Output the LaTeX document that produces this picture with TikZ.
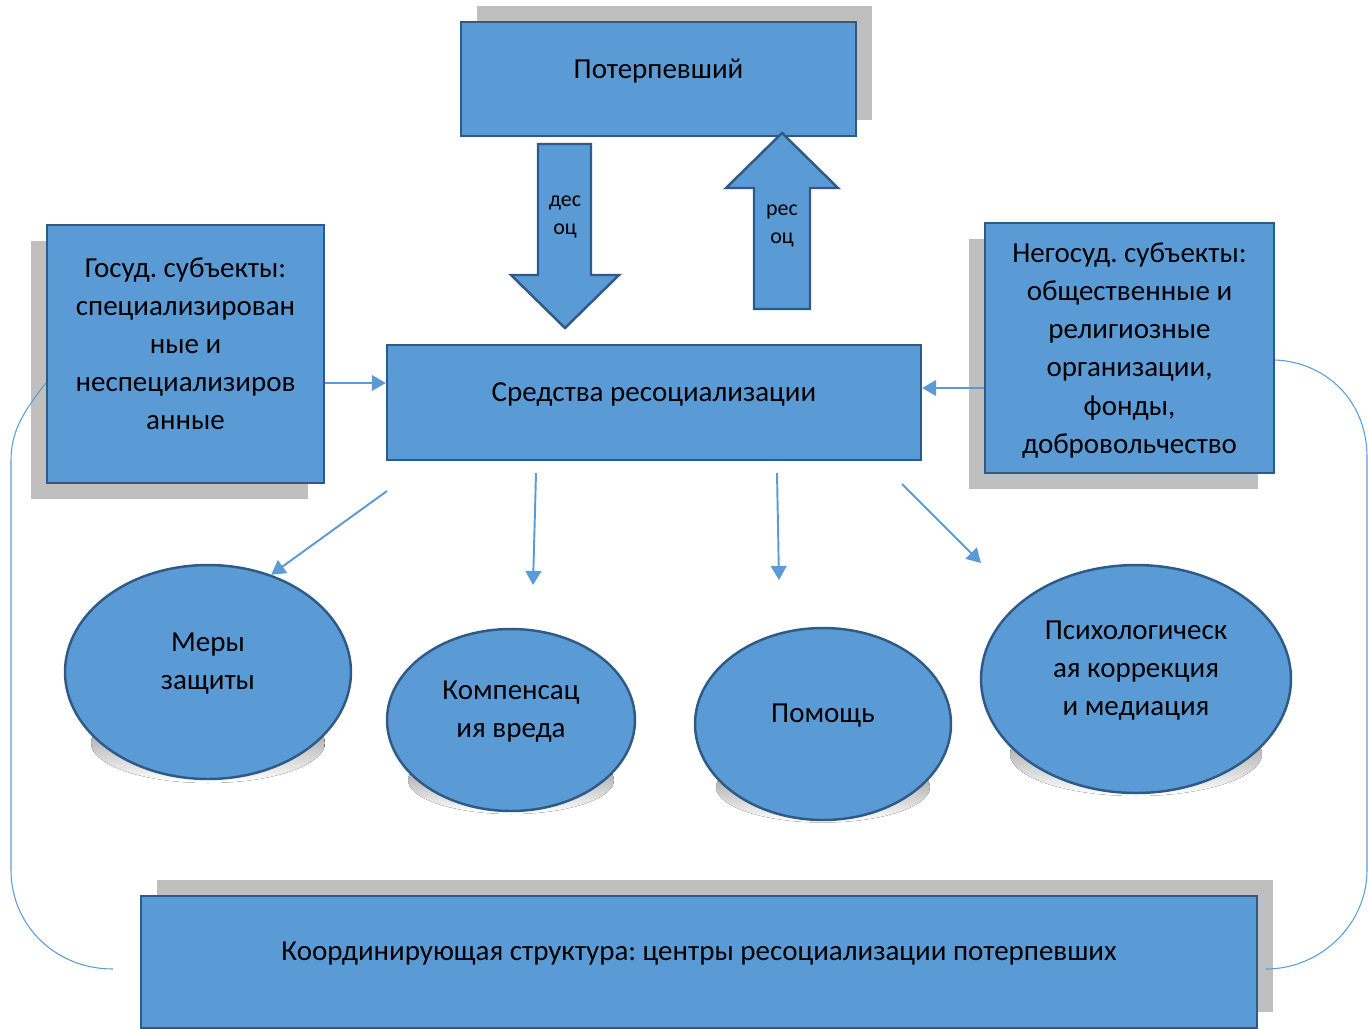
\documentclass[tikz,border=0pt]{standalone}
\usepackage{fontspec}
\setmainfont{Carlito}
\frenchspacing
\usetikzlibrary{shapes.geometric,shadows,backgrounds,calc,arrows.meta}
\definecolor{boxblue}{HTML}{5B9BD5}
\definecolor{boxline}{HTML}{2E5A87}
\definecolor{shade}{HTML}{BFBFBF}

\begin{document}
\begin{tikzpicture}[x=0.02cm,y=-0.02cm]
\tikzset{block/.style = {shape=rectangle,draw=boxline,fill=boxblue,line width=1.4pt,align=center,inner sep=0pt,font=\fontsize{16.5}{21.7}\selectfont}}
\tikzset{oval/.style = {shape=ellipse,draw=boxline,fill=boxblue,line width=1.4pt,align=center,inner sep=0pt,text depth=0.42cm,font=\fontsize{16.5}{21.7}\selectfont}}
\tikzset{upshade/.style = {drop shadow={shadow xshift=0.32cm,shadow yshift=0.32cm,fill=shade,opacity=1}}}
\tikzset{downshade/.style = {drop shadow={shadow xshift=-0.32cm,shadow yshift=-0.32cm,fill=shade,opacity=1}}}
\tikzset{bigarrow/.style = {draw=boxline,fill=boxblue,line width=1.4pt,line join=miter}}
\tikzset{arrowtext/.style = {align=center,inner sep=0pt,font=\fontsize{12.5}{16.4}\selectfont}}
\tikzset{link/.style = {draw=boxblue,line width=1.1pt,-{Triangle[width=9pt,length=8pt]}}}
\tikzset{sideline/.style = {draw=boxblue,line width=0.6pt}}

\useasboundingbox (0,0) rectangle (1368,1028);

% boxes
\node[block,upshade,minimum width=7.9cm,minimum height=2.28cm,text depth=0.42cm] (pot) at (658.5,79) {Потерпевший};
\node[block,downshade,minimum width=5.54cm,minimum height=5.16cm,text depth=0.42cm] (gos) at (185.5,354) {Госуд. субъекты:\\специализирован\\ные и\\неспециализиров\\анные};
\node[block,downshade,minimum width=5.78cm,minimum height=5cm,text depth=0cm] (ngos) at (1129.5,348) {Негосуд. субъекты:\\общественные и\\религиозные\\организации,\\фонды,\\добровольчество};
\node[block,minimum width=10.68cm,minimum height=2.3cm,text depth=0.42cm] (sred) at (654,402.5) {Средства ресоциализации};
\node[block,upshade,minimum width=22.32cm,minimum height=2.64cm,text depth=0.42cm] (koord) at (699,962) {Координирующая структура: центры ресоциализации потерпевших};

% wide arrows
\draw[bigarrow] (538,144) -- (591,144) -- (591,275) -- (619,275) -- (565,328) -- (511,275) -- (538,275) -- cycle;
\draw[bigarrow] (754,309) -- (810,309) -- (810,188) -- (838,188) -- (782,133) -- (726,188) -- (754,188) -- cycle;
\node[arrowtext] (des) at (565,217) {дес\\оц};
\node[arrowtext] (res) at (782,226) {рес\\оц};

% ovals
\node[oval,minimum width=5.72cm,minimum height=4.28cm] (mery) at (208,672) {Меры\\защиты};
\node[oval,minimum width=4.96cm,minimum height=3.64cm] (komp) at (511,720) {Компенсац\\ия вреда};
\node[oval,minimum width=5.12cm,minimum height=3.84cm] (pom) at (823,724) {Помощь};
\node[oval,minimum width=6.2cm,minimum height=4.56cm] (psy) at (1136,679) {Психологическ\\ая коррекция\\и медиация};

\begin{pgfonlayer}{background}
\foreach \e/\rx/\ry/\dy in {mery/2.34/0.8/71, komp/2.06/0.68/60, pom/2.14/0.71/63, psy/2.52/0.84/75}
  \fill[shade] ($(\e)+(0,\dy)$) ellipse [x radius=\rx cm, y radius=\ry cm];
\end{pgfonlayer}

% connectors
\coordinate (f1) at (387,491);
\coordinate (f2) at (536,473);
\coordinate (f3) at (777,473);
\coordinate (f4) at (902,484);
\coordinate (t2) at (533,585);
\coordinate (t3) at (779,580);
\coordinate (t4) at (981,563);
\coordinate (lend) at (113,969);
\coordinate (rend) at (1266,969);

\draw[link] (gos.east |- 0,383) -- (sred.west |- 0,383);
\draw[link] (ngos.west |- 0,388) -- (sred.east |- 0,388);
\draw[link] (f1) -- (mery.57);
\draw[link] (f2) -- (t2);
\draw[link] (f3) -- (t3);
\draw[link] (f4) -- (t4);

\draw[sideline] (gos.west |- 0,383) .. controls (25,410) and (11,430) .. (11,460) -- (11,870) .. controls (11,925) and (55,969) .. (lend);
\draw[sideline] (ngos.east |- 0,360) .. controls (1325,362) and (1367,400) .. (1367,457) -- (1367,870) .. controls (1367,925) and (1320,969) .. (rend);

\end{tikzpicture}
\end{document}
